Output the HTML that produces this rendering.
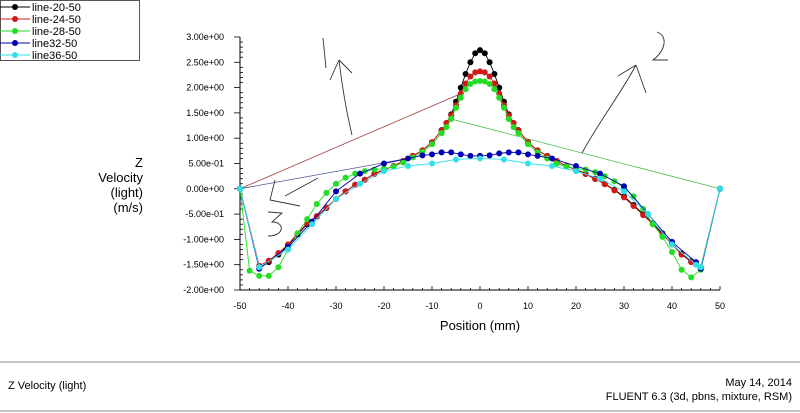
<!DOCTYPE html>
<html><head><meta charset="utf-8"><style>
html,body{margin:0;padding:0;background:#fff;}
svg{display:block;font-family:"Liberation Sans",Arial,sans-serif;}
</style></head><body>
<svg id="chart" width="800" height="413" viewBox="0 0 800 413">
<g id="legend"></g>
<g font-size="13" text-anchor="end" fill="#000">
<text x="143" y="167">Z</text><text x="143" y="182">Velocity</text><text x="143" y="197">(light)</text><text x="143" y="212">(m/s)</text>
</g>
<g id="axes"></g>
<text x="480" y="330" font-size="13" text-anchor="middle">Position (mm)</text>
<g id="series"></g>
<g stroke="#333" stroke-width="0.9" fill="none">
<path d="M352,135 C346,110 342,85 339,60 M339,60 L330,80 M339,60 L352,73"/>
<path d="M323,38 L326,68"/>
<path d="M582,153 C600,120 620,95 636,65 M636,65 L618,76 M636,65 L646,93"/>
<path d="M657,32 C668,36 666,50 653,60 L668,60"/>
<path d="M275,180 L270,200 L300,206 M285,196 L318,178"/>
<path d="M268,212 L282,213 L272,222 C285,222 285,236 268,236"/>
</g>
<line x1="0" y1="362" x2="800" y2="362" stroke="#888"/>
<line x1="0" y1="411" x2="800" y2="411" stroke="#888"/>
<text x="8" y="389" font-size="11">Z Velocity (light)</text>
<text x="792" y="386" font-size="11" text-anchor="end">May 14, 2014</text>
<text x="792" y="400" font-size="11" text-anchor="end">FLUENT 6.3 (3d, pbns, mixture, RSM)</text>
</svg>
<script>
const NS='http://www.w3.org/2000/svg';
const seriesNames=['line-20-50','line-24-50','line-28-50','line32-50','line36-50'];
const seriesColors=['#000000','#d01818','#22dd22','#0000b0','#30e0e8'];
const xTicks=[-50,-40,-30,-20,-10,0,10,20,30,40,50];
const yTicks=[3,2.5,2,1.5,1,0.5,0,-0.5,-1,-1.5,-2];
const yTickLabels=['3.00e+00','2.50e+00','2.00e+00','1.50e+00','1.00e+00','5.00e-01','0.00e+00','-5.00e-01','-1.00e+00','-1.50e+00','-2.00e+00'];
const xBlack=[-50,-46,-44,-42,-40,-38,-36,-34,-32,-30,-28,-26,-24,-22,-20,-18,-16,-14,-12,-10,-8,-7,-6,-5,-4,-3,-2,-1,0,1,2,3,4,5,6,7,8,10,12,14,16,18,20,22,24,26,28,30,32,34,36,38,40,42,44,46,50];
const yBlack=[0,-1.57,-1.45,-1.3,-1.12,-0.9,-0.7,-0.55,-0.38,-0.2,-0.05,0.08,0.18,0.3,0.38,0.45,0.55,0.65,0.76,0.92,1.16,1.3,1.47,1.72,2.0,2.27,2.5,2.68,2.74,2.68,2.5,2.27,2.0,1.72,1.47,1.3,1.16,0.92,0.76,0.65,0.55,0.45,0.38,0.3,0.2,0.1,-0.02,-0.15,-0.32,-0.5,-0.68,-0.88,-1.08,-1.28,-1.43,-1.55,0];
const yRed=[0,-1.52,-1.42,-1.27,-1.1,-0.88,-0.68,-0.54,-0.37,-0.2,-0.05,0.08,0.18,0.29,0.37,0.45,0.55,0.65,0.76,0.92,1.15,1.3,1.45,1.65,1.88,2.08,2.22,2.3,2.32,2.3,2.22,2.08,1.88,1.65,1.45,1.3,1.15,0.92,0.76,0.65,0.55,0.45,0.37,0.29,0.19,0.09,-0.03,-0.17,-0.34,-0.52,-0.7,-0.9,-1.1,-1.3,-1.45,-1.55,0];
const xGreen=[-50,-48,-46,-44,-42,-40,-38,-36,-34,-32,-30,-28,-26,-24,-22,-20,-18,-16,-14,-12,-10,-8,-7,-6,-5,-4,-3,-2,-1,0,1,2,3,4,5,6,7,8,10,12,14,16,18,20,22,24,26,28,30,32,34,36,38,40,42,44,46,50];
const yGreen=[0,-1.62,-1.72,-1.72,-1.55,-1.2,-0.88,-0.6,-0.3,-0.08,0.1,0.22,0.3,0.35,0.38,0.4,0.44,0.52,0.62,0.73,0.88,1.1,1.22,1.38,1.6,1.8,1.97,2.07,2.12,2.13,2.12,2.07,1.97,1.8,1.6,1.38,1.22,1.1,0.88,0.72,0.6,0.5,0.44,0.4,0.38,0.33,0.25,0.15,0.02,-0.15,-0.4,-0.7,-0.95,-1.25,-1.6,-1.75,-1.6,0];
const xBlue=[-50,-46,-40,-35,-30,-25,-20,-15,-12,-10,-8,-6,-4,-2,0,2,4,6,8,10,12,15,20,25,30,35,40,45,46,50];
const yBlue=[0,-1.58,-1.15,-0.65,-0.05,0.3,0.5,0.6,0.66,0.68,0.72,0.72,0.68,0.65,0.65,0.66,0.7,0.72,0.72,0.68,0.65,0.6,0.45,0.3,0.05,-0.5,-1.05,-1.45,-1.58,0];
const xCyan=[-50,-46,-40,-35,-30,-25,-20,-15,-10,-5,0,5,10,15,20,25,30,35,40,45,46,50];
const yCyan=[0,-1.55,-1.2,-0.7,-0.2,0.1,0.35,0.45,0.5,0.58,0.6,0.58,0.5,0.45,0.35,0.2,-0.05,-0.5,-1.1,-1.5,-1.55,0];
// stray connector segments [seriesIndex, fromX, toX]
const connectors=[[1,-50,-4],[2,-6,50],[3,-50,-15]];
const X=p=>480+p*4.8, Y=v=>37+(3-v)*50.6;
const allX=[xBlack,xBlack,xGreen,xBlue,xCyan], allY=[yBlack,yRed,yGreen,yBlue,yCyan];
function mk(tag,attrs,parent){const e=document.createElementNS(NS,tag);for(const k in attrs)e.setAttribute(k,attrs[k]);parent.appendChild(e);return e;}
const axes=document.getElementById('axes');
let l=mk('line',{x1:240,y1:Y(3),x2:240,y2:Y(-2),stroke:'#000'},axes);

l=mk('line',{x1:240,y1:Y(-2),x2:720,y2:Y(-2),stroke:'#000'},axes);

for(let v=-20;v<=30;v++){const yy=Y(v/10);const major=v%5===0;
 const t=mk('line',{x1:major?234:240,y1:yy,x2:major?240:243,y2:yy,stroke:'#000','stroke-width':0.8},axes);
 }
yTicks.forEach((v,i)=>{const t=mk('text',{x:224,y:Y(v)+3,'font-size':9,'text-anchor':'end'},axes);t.textContent=yTickLabels[i];
 });
for(let p=-50;p<=50;p+=2){const xx=X(p);const major=p%10===0;
 const t=mk('line',{x1:xx,y1:Y(-2),x2:xx,y2:Y(-2)-(major?4:2),stroke:'#000','stroke-width':0.8},axes);
 }
xTicks.forEach(p=>{const t=mk('text',{x:X(p),y:309,'font-size':9,'text-anchor':'middle'},axes);t.textContent=p;
 });
const sg=document.getElementById('series');
const connColors=['#000','#a04040','#40c040','#4a5a90','#30e0e8'];
connectors.forEach(c=>{const xs=allX[c[0]],ys=allY[c[0]];const a=xs.indexOf(c[1]),b=xs.indexOf(c[2]);
 const ln=mk('line',{x1:X(xs[a]),y1:Y(ys[a]),x2:X(xs[b]),y2:Y(ys[b]),stroke:connColors[c[0]],'stroke-width':0.8},sg);
 });
[0,1,2,3,4].forEach(i=>{const g=mk('g',{},sg);
 
 const xs=allX[i],ys=allY[i];
 const pl=mk('polyline',{points:xs.map((x,k)=>X(x)+','+Y(ys[k])).join(' '),fill:'none',stroke:seriesColors[i],'stroke-width':0.9},g);
 
 xs.forEach((x,k)=>{const c=mk('circle',{cx:X(x),cy:Y(ys[k]),r:3,fill:seriesColors[i]},g);
  });
});
const lg=document.getElementById('legend');
const box=mk('rect',{x:0.5,y:0.5,width:139,height:60,fill:'#fff',stroke:'#555'},lg);

seriesNames.forEach((n,i)=>{const y=7+i*12;const g=mk('g',{},lg);
 
 mk('line',{x1:0,y1:y,x2:30,y2:y,stroke:seriesColors[i]},g);
 mk('circle',{cx:15,cy:y,r:3,fill:seriesColors[i]},g);
 const t=mk('text',{x:32,y:y+4,'font-size':11},g);t.textContent=n;});
</script>
</body></html>
